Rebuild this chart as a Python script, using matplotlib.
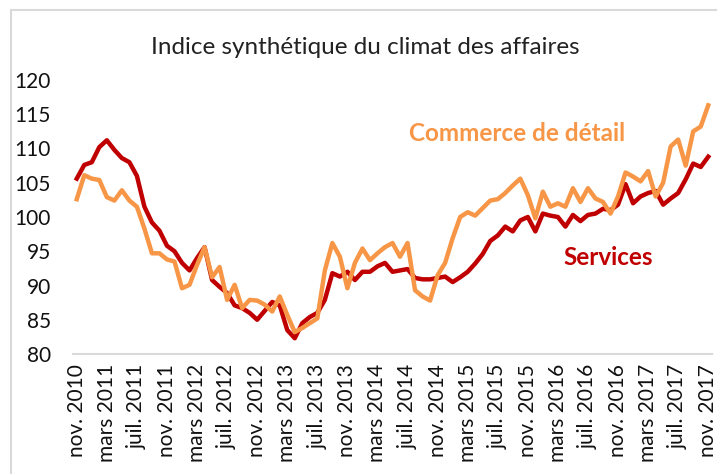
import matplotlib
matplotlib.use("Agg")
import matplotlib.pyplot as plt
import numpy as np
from matplotlib.patches import Rectangle

# monthly values, nov. 2010 -> nov. 2017
services = [
    105.6, 107.6, 108.0, 110.2, 111.2, 109.8, 108.6, 108.0, 106.0, 101.5,
    99.2, 98.0, 95.8, 95.0, 93.3, 92.2, 94.0, 95.6, 90.8, 89.8,
    88.9, 87.1, 86.7, 86.0, 85.0, 86.3, 87.6, 87.1, 83.5, 82.3,
    84.5, 85.4, 86.0, 87.9, 91.8, 91.3, 92.0, 90.8, 92.0, 92.0,
    92.8, 93.3, 92.0, 92.2, 92.4, 91.1, 90.9, 90.9, 91.1, 91.3,
    90.5, 91.2, 92.0, 93.2, 94.6, 96.5, 97.3, 98.6, 97.9, 99.5,
    100.0, 97.9, 100.5, 100.2, 100.0, 98.6, 100.3, 99.4, 100.3, 100.5,
    101.2, 101.0, 101.8, 104.8, 102.0, 103.0, 103.5, 103.8, 101.8, 102.7,
    103.5, 105.5, 107.8, 107.3, 108.8,
]
commerce = [
    102.6, 106.1, 105.6, 105.4, 102.9, 102.4, 103.9, 102.4, 101.5, 98.3,
    94.7, 94.7, 93.8, 93.5, 89.6, 90.1, 93.0, 95.6, 91.2, 92.7,
    87.9, 90.1, 86.7, 87.9, 87.8, 87.2, 86.2, 88.4, 85.7, 83.2,
    83.8, 84.5, 85.2, 92.2, 96.2, 94.2, 89.6, 93.3, 95.4, 93.7,
    94.7, 95.6, 96.2, 94.2, 96.2, 89.3, 88.4, 87.8, 91.5, 93.3,
    96.9, 100.0, 100.7, 100.2, 101.3, 102.4, 102.6, 103.5, 104.6, 105.6,
    103.2, 99.8, 103.7, 101.5, 102.0, 101.5, 104.2, 102.2, 104.2, 102.7,
    102.2, 100.5, 103.0, 106.5, 105.9, 105.2, 106.7, 103.0, 105.0, 110.3,
    111.3, 107.5, 112.5, 113.2, 116.3,
]
tick_labels = [
    "nov. 2010", "mars 2011", "juil. 2011", "nov. 2011", "mars 2012", "juil. 2012",
    "nov. 2012", "mars 2013", "juil. 2013", "nov. 2013", "mars 2014", "juil. 2014",
    "nov. 2014", "mars 2015", "juil. 2015", "nov. 2015", "mars 2016", "juil. 2016",
    "nov. 2016", "mars 2017", "juil. 2017", "nov. 2017",
]

plt.rcParams["font.family"] = ["Lato", "DejaVu Sans"]

fig = plt.figure(figsize=(7.17, 4.74), dpi=100)
ax = fig.add_axes([73 / 717, 1 - 354 / 474, (712 - 73) / 717, (354 - 80) / 474])

x = np.arange(len(services))
ax.plot(x, services, color="#C00000", lw=3.2, solid_joinstyle="round", zorder=3)
ax.plot(x, commerce, color="#F79646", lw=3.2, solid_joinstyle="round", zorder=4)

ax.set_xlim(-0.5, len(services) - 0.5)
ax.set_ylim(80, 120)
ax.set_yticks(np.arange(80, 121, 5))
ax.set_xticks(x[::4])
ax.set_xticklabels(tick_labels, rotation=90, fontsize=15, color="#111111")
ax.tick_params(axis="y", labelsize=15, length=0, pad=16, colors="#111111")
ax.tick_params(axis="x", length=0, pad=7)

for s in ["top", "right", "left"]:
    ax.spines[s].set_visible(False)
ax.spines["bottom"].set_color("#D9D9D9")
ax.spines["bottom"].set_linewidth(1.5)

ax.text(58.6, 112.2, "Commerce de détail", color="#F79646", fontsize=17.5,
        fontweight="bold", ha="center", va="center")
ax.text(70.7, 94.1, "Services", color="#C00000", fontsize=17.5,
        fontweight="bold", ha="center", va="center")

fig.text(365 / 717, 1 - 47 / 474, "Indice synthétique du climat des affaires",
         fontsize=17.5, color="#222222", ha="center", va="center")

# chart border
fig.patches.append(Rectangle((11 / 717, -0.1), 1.2, 1 - 10 / 474 + 0.1,
                             transform=fig.transFigure, fill=False,
                             edgecolor="#D9D9D9", lw=1.5))

fig.savefig("out.png", dpi=100)
